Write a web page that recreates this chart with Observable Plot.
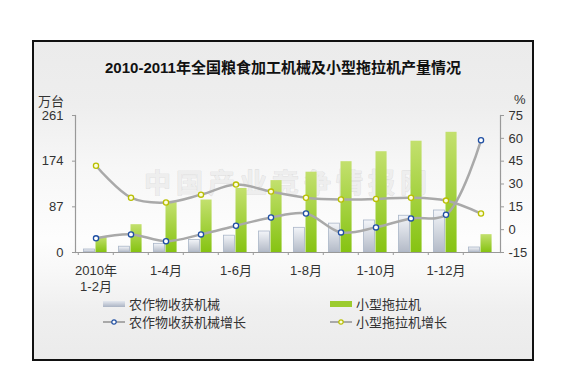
<!DOCTYPE html>
<html><head><meta charset="utf-8">
<script src="https://cdn.jsdelivr.net/npm/d3@7"></script>
<script src="https://cdn.jsdelivr.net/npm/@observablehq/plot@0.6"></script>
<style>
body{margin:0;background:#fff;font-family:"Liberation Sans","Noto Sans CJK SC",sans-serif;}
#wrap{position:relative;width:573px;height:380px;overflow:hidden;}
#panel{position:absolute;left:32px;top:40px;width:498px;height:317px;border:2px solid #111;
 background:linear-gradient(to bottom,#ebebeb 0%,#eeeeee 20%,#f7f7f7 40%,#fdfdfd 62%,#f8f8f8 72%,#efefef 85%,#ebebeb 100%);}
#title{position:absolute;left:32px;top:56px;width:502px;text-align:center;font-size:15px;font-weight:bold;color:#111;font-family:"Liberation Sans","Noto Sans CJK SC",sans-serif;}
.unit{position:absolute;font-size:13px;color:#333;font-family:"Liberation Sans","Noto Sans CJK SC",sans-serif;}
#chart{position:absolute;left:32px;top:95px;}
.leg{position:absolute;font-size:13px;color:#333;display:flex;align-items:center;font-family:"Noto Sans CJK SC",sans-serif;}
.leg svg{margin-right:4px;}
</style></head>
<body><div id="wrap">
<div id="panel"></div>
<div id="title">2010-2011年全国粮食加工机械及小型拖拉机产量情况</div>
<div class="unit" style="left:38px;top:91px;">万台</div>
<div class="unit" style="left:514px;top:92px;">%</div>
<div id="chart"></div>
<div id="legend"></div>
</div>
<script>
const categories = ["2010年1-2月","1-3月","1-4月","1-5月","1-6月","1-7月","1-8月","1-9月","1-10月","1-11月","1-12月","2011年1-2月"];
const tickLabels = ["2010年\n1-2月","","1-4月","","1-6月","","1-8月","","1-10月","","1-12月",""];
const harvester = [5.7, 11, 16.5, 24, 32, 40, 47, 55, 61, 70, 80, 9.5];
const tractor = [29, 53, 95, 100, 122, 137, 153, 173, 192, 212, 229, 34];
const harvesterGrowth = [-5.7, -3.1, -7.6, -3.1, 2.6, 8, 10.6, -1.8, 1.5, 7.4, 9.8, 58.7];
const tractorGrowth = [42, 21, 17.8, 23, 29.6, 25, 21, 19.8, 20.2, 21, 19.1, 10.6];
const leftTicks = [0, 87, 174, 261];
const rightTicks = [-15, 0, 15, 30, 45, 60, 75];
const seriesNames = ["农作物收获机械", "小型拖拉机", "农作物收获机械增长", "小型拖拉机增长"];
const watermark = "中国产业竞争情报网";

// map right-axis (%) values onto the left scale domain [0, 261]
const rMin = -15, rMax = 75, lMax = 261;
const toLeft = g => (g - rMin) * lMax / (rMax - rMin);
const fromLeft = v => v * (rMax - rMin) / lMax + rMin;

const rows = categories.map((c, i) => ({
  c, h: harvester[i], t: tractor[i],
  hg: toLeft(harvesterGrowth[i]), tg: toLeft(tractorGrowth[i])
}));

const W = 502, H = 200, mL = 43, mR = 34;
const bw = (W - mL - mR) / categories.length;
const fontFam = '"Liberation Sans","Noto Sans CJK SC",sans-serif';

const plot = Plot.plot({
  width: W, height: H,
  marginLeft: mL, marginRight: mR, marginTop: 20, marginBottom: 43,
  style: {fontSize: "13px", fontFamily: fontFam, color: "#333", background: "transparent", overflow: "visible"},
  x: {type: "band", domain: categories, padding: 0, axis: null, label: null},
  y: {domain: [0, lMax], axis: null, label: null},
  marks: [
    Plot.text([watermark], {frameAnchor: "middle", text: d => d, fontSize: 27, fontWeight: "bold",
      fill: "#eeeeee", stroke: "#dadada", strokeWidth: 0.7, fontFamily: '"Noto Sans CJK SC",sans-serif'}),
    Plot.barY(rows, {x: "c", y: "h", fill: "url(#gGray)", stroke: "#aab6c8", strokeWidth: 0.8,
      insetLeft: 5.5, insetRight: bw - 17}),
    Plot.barY(rows, {x: "c", y: "t", fill: "url(#gGreen)", insetLeft: 17.5, insetRight: bw - 29}),
    Plot.ruleY([0], {stroke: "#999", strokeWidth: 1.2}),
    Plot.frame({anchor: "left", stroke: "#999", strokeWidth: 1.2}),
    Plot.frame({anchor: "right", stroke: "#999", strokeWidth: 1.2}),
    Plot.axisY({anchor: "left", ticks: leftTicks, tickSize: 3, tickPadding: 9, stroke: "#999", fill: "#333", label: null}),
    Plot.axisY({anchor: "right", ticks: rightTicks.map(toLeft), tickFormat: v => String(Math.round(fromLeft(v))),
      tickSize: 3, tickPadding: 5, stroke: "#999", fill: "#333", label: null}),
    Plot.axisX({ticks: categories, tickSize: 3, tickFormat: () => "", dx: -bw / 2, stroke: "#999", label: null}),
    Plot.axisX({ticks: categories, tickSize: 0, tickPadding: 11, lineHeight: 1.25, label: null,
      tickFormat: (d) => tickLabels[categories.indexOf(d)], fill: "#333"}),
    Plot.line(rows, {x: "c", y: "tg", stroke: "#a9a9a9", strokeWidth: 2.5, curve: "catmull-rom"}),
    Plot.line(rows, {x: "c", y: "hg", stroke: "#a9a9a9", strokeWidth: 2.5, curve: "catmull-rom"}),
    Plot.dot(rows, {x: "c", y: "tg", r: 2.6, fill: "#fdfde0", stroke: "#b8bf00", strokeWidth: 1.3}),
    Plot.dot(rows, {x: "c", y: "hg", r: 2.6, fill: "#ffffff", stroke: "#1f4fa3", strokeWidth: 1.3})
  ]
});

const ns = "http://www.w3.org/2000/svg";
const defs = document.createElementNS(ns, "defs");
defs.innerHTML = `
<linearGradient id="gGray" x1="0" y1="0" x2="0" y2="1">
  <stop offset="0" stop-color="#f3f5f9"/><stop offset="1" stop-color="#b3bac7"/>
</linearGradient>
<linearGradient id="gGreen" x1="0" y1="0" x2="0" y2="1">
  <stop offset="0" stop-color="#c3e06e"/><stop offset="1" stop-color="#86c312"/>
</linearGradient>`;
plot.insertBefore(defs, plot.firstChild);
for (const t of plot.querySelectorAll("text")) {
  if (t.textContent === watermark) t.setAttribute("letter-spacing", "5px");
}
document.getElementById("chart").appendChild(plot);

// legend
const legend = document.getElementById("legend");
const items = [
  {name: seriesNames[0], left: 103, top: 294, sw: `<svg width="22" height="8"><rect x="0" y="1" width="22" height="6" fill="url(#lgGray)"/><defs><linearGradient id="lgGray" x1="0" y1="0" x2="0" y2="1"><stop offset="0" stop-color="#e4e8ef"/><stop offset="1" stop-color="#aab3c3"/></linearGradient></defs></svg>`},
  {name: seriesNames[1], left: 330, top: 294, sw: `<svg width="22" height="8"><rect x="0" y="1" width="22" height="6" fill="#9ccc2e"/></svg>`},
  {name: seriesNames[2], left: 103, top: 312, sw: `<svg width="22" height="8"><line x1="0" y1="4" x2="22" y2="4" stroke="#a9a9a9" stroke-width="2"/><circle cx="11" cy="4" r="2.2" fill="#fff" stroke="#1f4fa3" stroke-width="1.2"/></svg>`},
  {name: seriesNames[3], left: 330, top: 312, sw: `<svg width="22" height="8"><line x1="0" y1="4" x2="22" y2="4" stroke="#a9a9a9" stroke-width="2"/><circle cx="11" cy="4" r="2.2" fill="#fdfde0" stroke="#b8bf00" stroke-width="1.2"/></svg>`}
];
for (const it of items) {
  const d = document.createElement("div");
  d.className = "leg";
  d.style.left = it.left + "px";
  d.style.top = it.top + "px";
  d.innerHTML = it.sw + `<span>${it.name}</span>`;
  legend.appendChild(d);
}
</script>
</body></html>
